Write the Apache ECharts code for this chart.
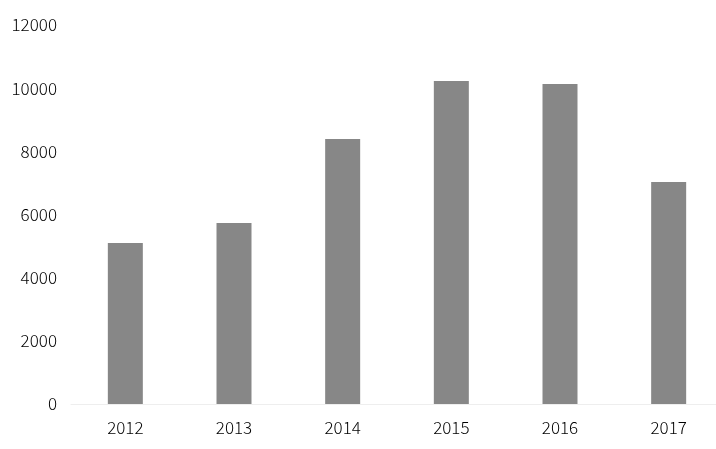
<!DOCTYPE html>
<html><head><meta charset="utf-8">
<script src="https://cdn.jsdelivr.net/npm/echarts@6/dist/echarts.min.js"></script>
<style>html,body{margin:0;padding:0;background:#fff;overflow:hidden}#c{width:723px;height:449px}</style>
</head><body><div id="c"></div>
<script>
var categories = ['2012','2013','2014','2015','2016','2017'];
var values = [5100, 5730, 8390, 10230, 10130, 7030];
var yTicks = [0, 2000, 4000, 6000, 8000, 10000, 12000];

var chart = echarts.init(document.getElementById('c'), null, {renderer:'canvas'});
var font = '"Noto Sans CJK JP", "Noto Sans", sans-serif';
chart.setOption({
  animation: false,
  backgroundColor: '#fff',
  grid: {left: 71, right: 0, top: 25, bottom: 45, containLabel: false},
  xAxis: {
    type: 'category', data: categories,
    axisLine: {show: true, lineStyle: {color: '#eeeeee', width: 1}},
    axisTick: {show: false},
    axisLabel: {color: '#000', fontSize: 17, fontFamily: font, fontWeight: 300, margin: 15}
  },
  yAxis: {
    type: 'value', min: yTicks[0], max: yTicks[yTicks.length-1], interval: yTicks[1]-yTicks[0],
    axisLine: {show: false}, axisTick: {show: false}, splitLine: {show: false},
    axisLabel: {color: '#000', fontSize: 17, fontFamily: font, fontWeight: 300, margin: 14,
      formatter: function(v){ return String(v); }}
  },
  series: [{
    type: 'bar', data: values, barWidth: 35,
    itemStyle: {color: '#878787'}
  }]
});
</script></body></html>
